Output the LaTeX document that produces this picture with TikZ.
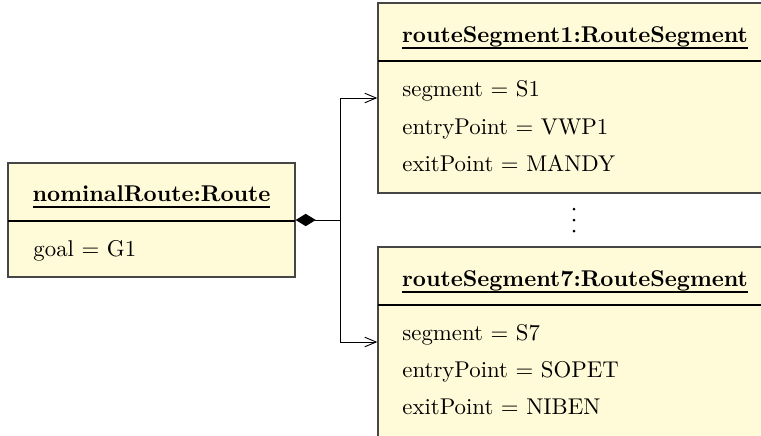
\documentclass[tikz,border=0pt]{standalone}
\usetikzlibrary{arrows.meta}
\definecolor{umlfill}{RGB}{255,250,215}
\definecolor{umlline}{RGB}{70,70,70}
\newcommand\myul[1]{\setbox0\hbox{#1}\rlap{\copy0}\rule[-3.2pt]{\wd0}{1.1pt}}
\begin{document}
\begin{tikzpicture}[x=0.4386pt,y=-0.4386pt,
  umlbox/.style={draw=umlline,fill=umlfill,line width=0.6pt,inner sep=0pt},
  divider/.style={draw=black,line width=0.5pt},
  head/.style={anchor=base,inner sep=0pt,font=\bfseries},
  attr/.style={anchor=base west,inner sep=0pt},
  conn/.style={line width=0.4pt,draw=black}]
\useasboundingbox (0,0) rectangle (761,435);
\clip (0,0) rectangle (761,435);
% boxes
\node[umlbox,minimum width=287*0.4386pt,minimum height=114*0.4386pt] (route) at (151.5,220) {};
\node[umlbox,minimum width=393*0.4386pt,minimum height=190*0.4386pt] (seg1) at (574.5,98) {};
\node[umlbox,minimum width=393*0.4386pt,minimum height=190*0.4386pt] (seg7) at (574.5,342) {};
\draw[divider] (8,221) -- (295,221);
\draw[divider] (378,61) -- (771,61);
\draw[divider] (378,305) -- (771,305);
% texts
\node[head] (routeh) at (151.5,201) {\myul{nominalRoute:Route}};
\node[attr] (goal) at (33,256) {goal = G1};
\node[head] (seg1h) at (575,42) {\myul{routeSegment1:RouteSegment}};
\node[attr] (s1a) at (402,96) {segment = S1};
\node[attr] (s1b) at (402,134) {entryPoint = VWP1};
\node[attr] (s1c) at (402,171.5) {exitPoint = MANDY};
\node[head] (seg7h) at (575,286) {\myul{routeSegment7:RouteSegment}};
\node[attr] (s7a) at (402,340) {segment = S7};
\node[attr] (s7b) at (402,377) {entryPoint = SOPET};
\node[attr] (s7c) at (402,414.5) {exitPoint = NIBEN};
% dots
\foreach \yy in {209,220,231} \fill (574,\yy) circle[radius=1.5];
% connectors
\coordinate (j) at (340,220);
\draw[conn,{Diamond[length=8.8pt,width=5.4pt]}-] (route.east) -- (j);
\draw[conn,-{Straight Barb[length=5pt,width=4.2pt]}] (j) |- (seg1.west);
\draw[conn,-{Straight Barb[length=5pt,width=4.2pt]}] (j) |- (seg7.west);
\end{tikzpicture}
\end{document}
